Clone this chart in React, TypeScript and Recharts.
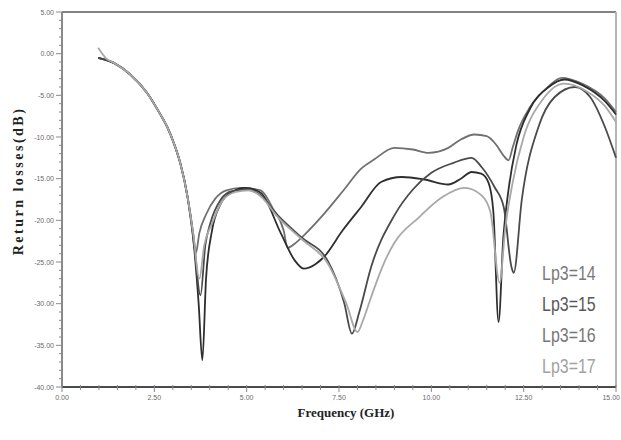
import React from 'react';
import { LineChart, Line, XAxis, YAxis, Legend, ReferenceLine } from 'recharts';

// Frequency (GHz) and return loss (dB) for each Lp3 value
const freq14 = [0.98, 1.4, 1.85, 2.3, 2.65, 2.85, 3.05, 3.2, 3.4, 3.52, 3.62, 3.72, 3.9, 4.15, 4.45, 4.85, 5.38, 5.7, 6.0, 6.11, 6.3, 6.55, 7.1, 7.64, 8.1, 8.45, 9.0, 9.5, 9.92, 10.46, 10.8, 11.17, 11.5, 11.75, 11.95, 12.09, 12.2, 12.35, 12.66, 13.18, 13.53, 14.08, 14.7, 15.0];
const rl14 = [-0.5, -1.1, -2.5, -4.7, -7.2, -8.8, -11.0, -13.1, -17.2, -21.0, -24.0, -21.5, -19.3, -17.4, -16.4, -16.1, -16.4, -18.5, -21.2, -23.3, -22.8, -21.8, -19.2, -16.3, -13.8, -12.7, -11.3, -11.5, -11.9, -11.3, -10.3, -9.7, -9.9, -10.9, -12.2, -12.8, -11.3, -9.2, -6.5, -3.9, -2.9, -3.6, -5.4, -7.0];

const freq15 = [0.98, 1.4, 1.85, 2.3, 2.65, 2.85, 3.05, 3.2, 3.4, 3.55, 3.7, 3.8, 3.9, 4.05, 4.3, 4.6, 4.95, 5.38, 5.92, 6.3, 6.55, 6.85, 7.09, 7.6, 8.1, 8.64, 9.2, 9.81, 10.46, 10.8, 11.09, 11.35, 11.55, 11.68, 11.82, 11.95, 12.1, 12.3, 12.66, 13.18, 13.6, 14.1, 14.7, 15.0];
const rl15 = [-0.5, -1.1, -2.5, -4.7, -7.2, -8.8, -11.0, -13.1, -17.2, -22.0, -30.0, -36.8, -27.0, -21.5, -18.0, -16.6, -16.1, -16.7, -21.5, -24.8, -25.8, -25.3, -24.4, -21.2, -18.4, -15.4, -14.8, -15.1, -15.7, -15.0, -14.2, -14.4, -15.5, -19.0, -32.2, -22.0, -16.0, -11.0, -6.7, -4.0, -3.1, -3.8, -5.7, -7.3];

const freq16 = [0.98, 1.4, 1.85, 2.3, 2.65, 2.85, 3.05, 3.2, 3.4, 3.55, 3.75, 3.88, 4.02, 4.3, 4.6, 5.0, 5.38, 5.8, 6.47, 7.2, 7.64, 7.85, 8.05, 8.37, 9.0, 9.5, 10.0, 10.6, 11.09, 11.36, 11.71, 11.96, 12.17, 12.23, 12.45, 12.9, 13.34, 13.89, 14.3, 14.7, 15.0];
const rl16 = [-0.5, -1.1, -2.5, -4.7, -7.2, -8.8, -11.0, -13.1, -17.2, -21.5, -29.0, -23.0, -20.3, -17.5, -16.5, -16.3, -17.0, -19.2, -22.0, -24.9, -29.9, -33.6, -31.0, -25.6, -19.4, -16.3, -14.3, -13.1, -12.5, -13.6, -16.0, -18.4, -25.6, -26.3, -17.5, -8.8, -5.2, -4.0, -5.2, -8.8, -12.5];

const freq17 = [0.98, 1.2, 1.4, 1.85, 2.3, 2.65, 2.85, 3.05, 3.2, 3.4, 3.55, 3.72, 3.85, 4.05, 4.35, 4.7, 5.05, 5.4, 5.8, 6.5, 7.2, 7.7, 8.0, 8.15, 8.37, 8.72, 9.0, 9.65, 10.3, 10.9, 11.36, 11.6, 11.85, 12.0, 12.2, 12.5, 13.0, 13.6, 14.2, 14.7, 15.0];
const rl17 = [0.7, -0.6, -1.1, -2.5, -4.7, -7.2, -8.8, -11.0, -13.1, -17.2, -21.5, -27.0, -23.0, -20.5, -17.6, -16.6, -16.4, -17.2, -19.4, -22.3, -25.2, -30.0, -33.4, -32.0, -29.2, -25.1, -22.7, -19.7, -17.2, -16.1, -17.0, -19.0, -27.5, -21.0, -15.5, -10.0, -5.6, -3.6, -4.5, -6.3, -8.2];

const seriesNames = ['Lp3=14', 'Lp3=15', 'Lp3=16', 'Lp3=17'];
const lineColors = ['#707070', '#2e2e2e', '#4a4a4a', '#a8a8a8'];
const textColors = ['#7a7a7a', '#585858', '#777777', '#a2a2a2'];

const xTicks = Array.from({ length: 31 }, (_, i) => i * 0.5);
const yTicks = Array.from({ length: 46 }, (_, i) => -40 + i);

const toRows = (f: number[], v: number[]) => f.map((x, i) => ({ f: x, v: v[i] }));
const seriesData = [toRows(freq14, rl14), toRows(freq15, rl15), toRows(freq16, rl16), toRows(freq17, rl17)];

const XTick = (props: any) => {
  const { x, y, payload } = props;
  const v = payload.value as number;
  const major = Math.abs(v / 2.5 - Math.round(v / 2.5)) < 1e-6;
  const last = v >= 15;
  return (
    <g>
      <line x1={x} x2={x} y1={y - 2} y2={y + (major ? 5 : 3)} stroke="#8a8a8a" strokeWidth={1} />
      {major && (
        <text x={last ? x + 4 : x} y={y + 13} textAnchor={last ? 'end' : 'middle'} fontSize={7} fill="#6a6a6a" fontFamily="Liberation Sans, sans-serif">
          {v.toFixed(2)}
        </text>
      )}
    </g>
  );
};

const YTick = (props: any) => {
  const { x, y, payload } = props;
  const v = payload.value as number;
  const major = v % 5 === 0;
  return (
    <g>
      <line x1={x} x2={x - (major ? 6 : 3)} y1={y} y2={y} stroke="#8a8a8a" strokeWidth={1} />
      {major && (
        <text x={x - 8} y={y + 2.5} textAnchor="end" fontSize={7} fill="#6a6a6a" fontFamily="Liberation Sans, sans-serif">
          {v.toFixed(2)}
        </text>
      )}
    </g>
  );
};

const renderLegend = (props: any) => {
  const { payload } = props;
  return (
    <div>
      {(payload || []).map((entry: any) => (
        <div
          key={entry.value}
          style={{
            height: 31,
            lineHeight: '31px',
            fontSize: 21,
            fontFamily: 'Liberation Sans, Arial, sans-serif',
            color: textColors[seriesNames.indexOf(entry.value)] || entry.color,
            transform: 'scaleX(0.76)',
            transformOrigin: 'left center',
            whiteSpace: 'nowrap',
          }}
        >
          {entry.value}
        </div>
      ))}
    </div>
  );
};

const YLabel = () => (
  <text
    x={18}
    y={181}
    transform="rotate(-90 18 181)"
    textAnchor="middle"
    dominantBaseline="central"
    fontSize={14}
    fontWeight="bold"
    letterSpacing={2.5}
    fill="#222"
    fontFamily="Liberation Serif, serif"
  >
    Return losses(dB)
  </text>
);

export default function App() {
  return (
    <div style={{ position: 'absolute', left: 0, top: 0, width: 621, height: 440, background: '#fff' }}>
      <LineChart width={621} height={440} margin={{ top: 12, right: 5, bottom: 23, left: 0 }}>
        <XAxis
          dataKey="f"
          type="number"
          domain={[0, 15]}
          ticks={xTicks}
          interval={0}
          tickSize={0}
          tickMargin={0}
          tick={<XTick />}
          height={30}
          axisLine={{ stroke: '#4a4a4a', strokeWidth: 2 }}
          label={{ value: 'Frequency (GHz)', position: 'insideBottom', offset: 0, dx: 7, fontSize: 13, fontWeight: 'bold', fill: '#222', fontFamily: 'Liberation Serif, serif' }}
        />
        <YAxis
          type="number"
          domain={[-40, 5]}
          ticks={yTicks}
          interval={0}
          tickSize={0}
          tickMargin={0}
          tick={<YTick />}
          width={62}
          axisLine={{ stroke: '#8a8a8a', strokeWidth: 2 }}
          label={{ content: () => <YLabel /> }}
        />
        <ReferenceLine y={5} stroke="#5a5a5a" strokeWidth={1.5} />
        <ReferenceLine x={15} stroke="#b5b5b5" strokeWidth={2} />
        {seriesData.map((d, i) => (
          <Line
            key={seriesNames[i]}
            data={d}
            dataKey="v"
            name={seriesNames[i]}
            type="monotone"
            stroke={lineColors[i]}
            strokeWidth={1.8}
            dot={false}
            activeDot={false}
            isAnimationActive={false}
          />
        ))}
        <Legend
          layout="horizontal"
          verticalAlign="middle"
          align="center"
          content={renderLegend}
          wrapperStyle={{ position: 'absolute', left: 542, top: 257, width: 75, height: 124 }}
        />
      </LineChart>
    </div>
  );
}
